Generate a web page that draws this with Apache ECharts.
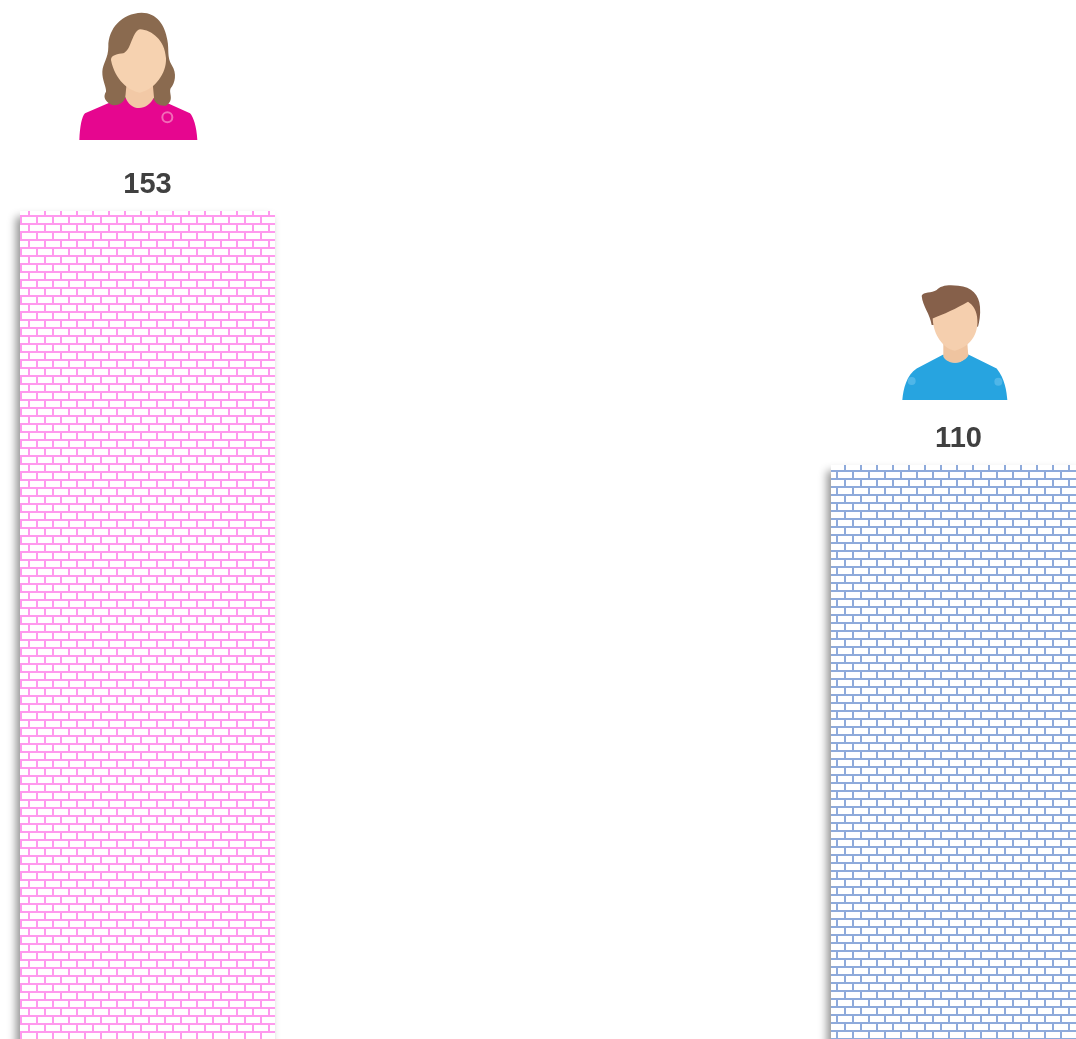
<!DOCTYPE html>
<html>
<head>
<meta charset="utf-8">
<style>html,body{margin:0;padding:0;background:#fff;overflow:hidden}#c{width:1076px;height:1039px}</style>
<script src="https://cdn.jsdelivr.net/npm/echarts@6/dist/echarts.min.js"></script>
</head>
<body>
<div id="c"></div>
<script>
const categories = ['Female', 'Male'];
const counts = [153, 110];
const brickColors = ['#ff99ee', '#8eaadb'];
const brickPhase = [0, 1];

function brickTile(color, shift) {
  const t = document.createElement('canvas');
  t.width = 16; t.height = 16;
  const g = t.getContext('2d');
  g.fillStyle = '#fff';
  g.fillRect(0, 0, 16, 16);
  g.fillStyle = color;
  [7, 8, 15, 16, 0].forEach(function (r) { g.fillRect(0, r - shift, 16, 1); });
  g.fillRect(12, 1 - shift, 2, 6);
  g.fillRect(4, 9 - shift, 2, 6);
  if (shift) { g.fillRect(0, 15, 16, 1); }
  return t;
}

const woman = [
  ['M195 288L75 340C65 350 60 380 58 420L412 420C410 380 400 350 390 340L280 290C260 328 215 328 195 288Z', '#e6068f'],
  ['M245 38C290 38 315 75 322 120C328 150 320 170 335 195C352 220 345 250 332 265C325 280 345 300 318 317C300 320 285 310 280 295L195 295C190 312 165 322 150 312C132 300 130 288 138 275C140 262 126 240 127 215C128 190 145 175 145 140C145 85 185 40 245 38Z', '#8a6a4f'],
  ['M200 250L196 290C210 335 262 335 282 292L278 250Z', '#f2c9a6'],
  ['M240 88C275 90 315 120 318 175C320 220 285 268 240 278C205 272 165 240 153 180C152 165 175 162 190 160C215 150 215 95 240 88Z', '#f6d2b0'],
  ['M322 334A18 18 0 1 0 322.1 370A18 18 0 1 0 322 334ZM322 340A12 12 0 1 1 321.9 364A12 12 0 1 1 322 340Z', '#f26cb8']
];
const man = [
  ['M160 238C175 270 215 270 235 238L320 280C345 310 350 350 352 375L37 375C40 340 50 300 80 280Z', '#27a4e0'],
  ['M95 62C100 50 125 55 140 45C150 30 180 28 205 32C245 35 268 60 270 95C272 120 268 140 264 155L240 150L125 150C120 115 98 95 95 62Z', '#86604a'],
  ['M160 205L160 245C175 270 215 270 235 242L232 205Z', '#efc4a0'],
  ['M128 130C160 118 200 100 234 80C250 90 262 110 262 135C265 178 240 215 195 227C160 220 130 180 128 130Z', '#f5cfae'],
  ['M65 306A12 12 0 1 0 65.1 330A12 12 0 1 0 65 306ZM325 308A12 12 0 1 0 325.1 332A12 12 0 1 0 325 308Z', '#4fb6e8']
];
const icons = [woman, man];
const iconOffsetX = [-87.5, -68.5];
const iconOffsetY = [-211, -190];

const chart = echarts.init(document.getElementById('c'), null, { renderer: 'canvas' });
chart.setOption({
  animation: false,
  backgroundColor: '#ffffff',
  grid: { left: -258, top: 211, width: 1622, height: 904, containLabel: false, outerBoundsMode: 'none' },
  xAxis: { type: 'category', data: categories, show: false },
  yAxis: { type: 'value', min: 0, max: 153, show: false },
  series: [{
    type: 'bar',
    barWidth: 255,
    data: counts.map(function (v, i) {
      return {
        value: v,
        itemStyle: {
          color: { image: brickTile(brickColors[i], brickPhase[i]), repeat: 'repeat' },
          shadowBlur: 9, shadowColor: 'rgba(0,0,0,0.42)', shadowOffsetX: -4, shadowOffsetY: 6
        }
      };
    }),
    label: {
      show: true, position: 'top', distance: 12,
      fontFamily: 'Liberation Sans, Arial, sans-serif',
      fontWeight: 'bold', fontSize: 29, color: '#404040'
    }
  }, {
    type: 'custom',
    silent: true,
    clip: false,
    data: counts.map(function (v, i) { return [i, v]; }),
    renderItem: function (params, api) {
      const i = params.dataIndex;
      const top = api.coord([api.value(0), api.value(1)]);
      return {
        type: 'group',
        x: top[0] + iconOffsetX[i],
        y: top[1] + iconOffsetY[i],
        scaleX: 1 / 3,
        scaleY: 1 / 3,
        children: icons[i].map(function (p) {
          return { type: 'path', shape: { pathData: p[0] }, style: { fill: p[1] } };
        })
      };
    }
  }]
});
</script>
</body>
</html>
